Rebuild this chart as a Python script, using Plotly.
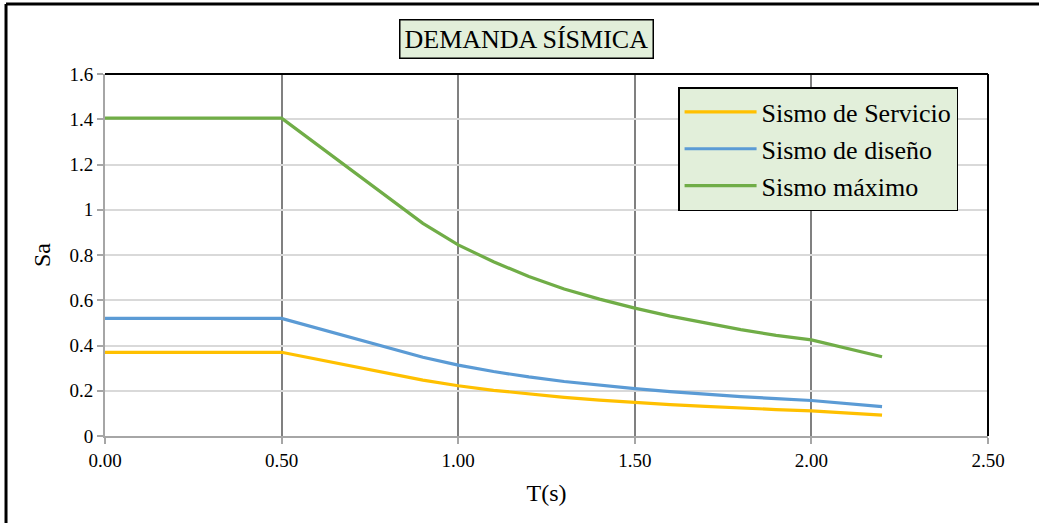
import plotly.graph_objects as go

# Periods T(s) and spectral accelerations
periodo = [0.0, 0.5, 0.9, 1.0, 1.1, 1.2, 1.3, 1.4, 1.5, 1.6, 1.7, 1.8, 1.9, 2.0, 2.2]
sa_servicio = [0.37, 0.37, 0.247, 0.222, 0.202, 0.185, 0.171, 0.159, 0.148, 0.139, 0.131, 0.123, 0.117, 0.111, 0.092]
sa_diseno = [0.52, 0.52, 0.348, 0.313, 0.285, 0.261, 0.241, 0.224, 0.209, 0.196, 0.184, 0.174, 0.165, 0.157, 0.130]
sa_maximo = [1.405, 1.405, 0.94, 0.845, 0.77, 0.705, 0.65, 0.605, 0.565, 0.53, 0.50, 0.47, 0.445, 0.425, 0.35]

series = [
    ("Sismo de Servicio", sa_servicio, "#FFC000"),
    ("Sismo de diseño", sa_diseno, "#5B9BD5"),
    ("Sismo máximo", sa_maximo, "#70AD47"),
]

FONT = "Liberation Serif, Times New Roman, serif"

fig = go.Figure()
for name, vals, color in series:
    fig.add_trace(go.Scatter(x=periodo, y=vals, name=name, mode="lines",
                             line=dict(color=color, width=3.2)))

fig.update_layout(
    width=1039, height=523,
    margin=dict(l=105, r=51, t=74, b=87),
    paper_bgcolor="white", plot_bgcolor="white",
    font=dict(family=FONT, color="#000000", size=19),
    showlegend=True,
    legend=dict(x=0.649, y=0.964, xanchor="left", yanchor="top",
                bgcolor="#E2EFDA", bordercolor="#000000", borderwidth=1.5,
                font=dict(size=26, family=FONT), tracegroupgap=0,
                itemwidth=72),
    xaxis=dict(range=[0, 2.5], dtick=0.5, tick0=0, tickformat=".2f",
               showgrid=True, gridcolor="#808080", gridwidth=2,
               showline=True, linecolor="#A6A6A6", linewidth=2,
               ticks="outside", ticklen=6, tickcolor="#A6A6A6", tickwidth=1.5,
               zeroline=False, tickfont=dict(size=19, family=FONT),
               title=dict(text="T(s)", font=dict(size=24, family=FONT), standoff=14)),
    yaxis=dict(range=[0, 1.6], dtick=0.2, tick0=0,
               showgrid=True, gridcolor="#D9D9D9", gridwidth=1.5,
               showline=True, linecolor="#A6A6A6", linewidth=2,
               ticks="outside", ticklen=6, tickcolor="#A6A6A6", tickwidth=1.5,
               zeroline=False, tickfont=dict(size=19, family=FONT),
               title=dict(text="Sa", font=dict(size=24, family=FONT), standoff=12)),
    annotations=[dict(
        text="DEMANDA SÍSMICA", xref="paper", yref="paper",
        x=0.4773, y=1.0967, xanchor="center", yanchor="middle",
        showarrow=False, font=dict(size=26, family=FONT, color="#000000"),
        bgcolor="#E2EFDA", bordercolor="#000000", borderwidth=1.5, borderpad=4,
    )],
    shapes=[
        # plot area border (top and right)
        dict(type="line", xref="paper", yref="paper", x0=0, x1=1, y0=1, y1=1,
             line=dict(color="#000000", width=2)),
        dict(type="line", xref="paper", yref="paper", x0=1, x1=1, y0=0, y1=1,
             line=dict(color="#000000", width=2)),
        # outer chart frame
        dict(type="line", xref="paper", yref="paper", x0=-0.1121, x1=1.06, y0=1.1934, y1=1.1934,
             line=dict(color="#000000", width=3)),
        dict(type="line", xref="paper", yref="paper", x0=-0.1121, x1=-0.1121, y0=-0.25, y1=1.1934,
             line=dict(color="#000000", width=3)),
    ],
)

fig.write_html("out.html", config={"displayModeBar": False},
               post_script="document.body.style.margin='0px';")
